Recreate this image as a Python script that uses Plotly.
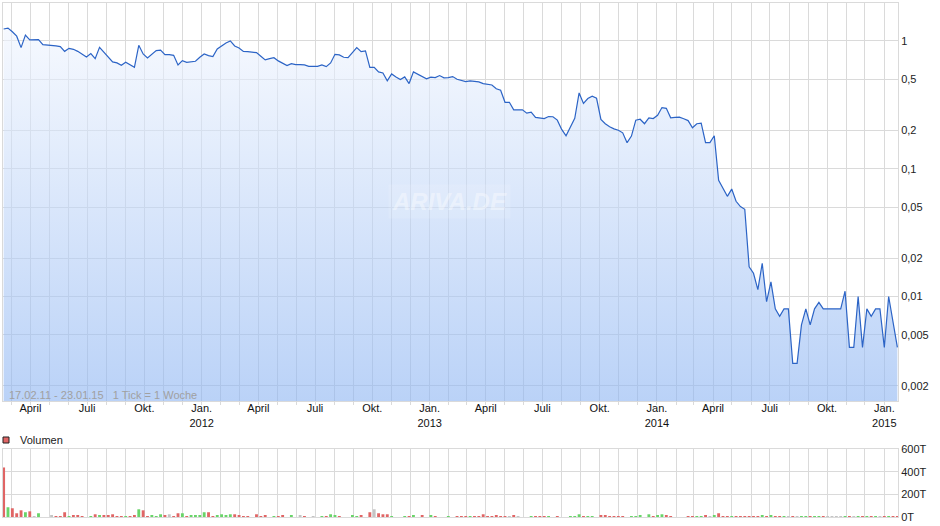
import plotly.graph_objects as go
from datetime import date, timedelta

# ---------------- data ----------------
start_date = date(2011, 2, 17)          # first weekly tick (17.02.11)
prev_close = 1.30                        # close of the week before the first tick

prices = [
    1.24, 1.26, 1.18, 1.09, 0.886, 1.11, 1.02, 1.02, 1.025, 0.936,
    0.931, 0.931, 0.914, 0.903, 0.829, 0.875, 0.86, 0.829, 0.791, 0.75,
    0.796, 0.727, 0.891, 0.821, 0.75, 0.685, 0.673, 0.645, 0.681, 0.653,
    0.622, 0.924, 0.791, 0.737, 0.791, 0.84, 0.847, 0.782, 0.782, 0.772,
    0.649, 0.702, 0.681, 0.689, 0.693, 0.745, 0.791, 0.768, 0.754, 0.866,
    0.919, 0.965, 1.0, 0.914, 0.882, 0.829, 0.825, 0.821, 0.81, 0.758,
    0.711, 0.727, 0.74, 0.698, 0.668, 0.641, 0.665, 0.653, 0.653, 0.649,
    0.633, 0.633, 0.633, 0.649, 0.63, 0.673, 0.786, 0.777, 0.745, 0.74,
    0.815, 0.886, 0.825, 0.835, 0.622, 0.622, 0.573, 0.562, 0.487, 0.552,
    0.523, 0.499, 0.523, 0.464, 0.573, 0.548, 0.526, 0.505, 0.52, 0.517,
    0.536, 0.514, 0.517, 0.526, 0.501, 0.49, 0.481, 0.487, 0.481, 0.478,
    0.464, 0.458, 0.452, 0.422, 0.411, 0.331, 0.331, 0.289, 0.289, 0.289,
    0.272, 0.277, 0.252, 0.249, 0.247, 0.256, 0.255, 0.24, 0.203, 0.181,
    0.214, 0.248, 0.392, 0.324, 0.354, 0.369, 0.356, 0.243, 0.225, 0.213,
    0.205, 0.2, 0.191, 0.16, 0.18, 0.24, 0.244, 0.225, 0.25, 0.247,
    0.262, 0.301, 0.297, 0.25, 0.252, 0.253, 0.246, 0.238, 0.209, 0.225,
    0.227, 0.16, 0.16, 0.181, 0.081, 0.0706, 0.0608, 0.0693, 0.0556, 0.0505,
    0.0481, 0.0171, 0.0152, 0.0113, 0.0182, 0.0091, 0.013, 0.008, 0.007, 0.008,
    0.008, 0.003, 0.003, 0.006, 0.008, 0.006, 0.008, 0.009, 0.008, 0.008,
    0.008, 0.008, 0.008, 0.011, 0.004, 0.004, 0.01, 0.004, 0.008, 0.007,
    0.008, 0.008, 0.004, 0.01, 0.0064, 0.004,
]

# weekly volume in thousands (T = Tausend)
volume_t = [
    437, 86, 77, 33, 59, 42, 50, 6, 33, 0,
    0, 15, 6, 6, 42, 6, 15, 15, 6, 0,
    6, 24, 15, 15, 15, 24, 6, 6, 6, 6,
    15, 68, 59, 6, 15, 6, 24, 15, 24, 6,
    33, 33, 6, 15, 15, 15, 42, 42, 6, 15,
    24, 15, 24, 24, 15, 6, 6, 0, 24, 6,
    15, 0, 6, 6, 15, 0, 15, 0, 15, 6,
    0, 6, 0, 6, 6, 24, 15, 6, 0, 0,
    15, 6, 15, 0, 42, 68, 33, 24, 24, 6,
    0, 0, 6, 6, 15, 0, 15, 0, 15, 6,
    0, 0, 3, 0, 6, 6, 2, 4, 4, 4,
    24, 4, 4, 15, 4, 4, 4, 15, 4, 0,
    0, 4, 4, 4, 4, 4, 0, 4, 0, 0,
    4, 4, 24, 4, 4, 4, 0, 15, 15, 4,
    4, 4, 4, 0, 4, 4, 15, 0, 24, 4,
    15, 24, 15, 4, 0, 0, 0, 4, 4, 4,
    4, 15, 4, 15, 33, 4, 4, 4, 4, 4,
    4, 4, 4, 4, 15, 4, 15, 4, 4, 4,
    4, 4, 4, 4, 4, 4, 4, 4, 4, 4,
    4, 4, 4, 4, 4, 4, 4, 4, 4, 4,
    4, 4, 4, 4, 4, 4,
]

price_tick_vals = [0.002, 0.005, 0.01, 0.02, 0.05, 0.1, 0.2, 0.5, 1]
price_tick_text = ["0,002", "0,005", "0,01", "0,02", "0,05", "0,1", "0,2", "0,5", "1"]
vol_tick_vals = [0, 200, 400, 600]
vol_tick_text = ["0T", "200T", "400T", "600T"]
quarter_vals = ["2011-04-01", "2011-07-01", "2011-10-01", "2012-01-01",
                "2012-04-01", "2012-07-01", "2012-10-01", "2013-01-01",
                "2013-04-01", "2013-07-01", "2013-10-01", "2014-01-01",
                "2014-04-01", "2014-07-01", "2014-10-01", "2015-01-01"]
quarter_text = ["April", "Juli", "Okt.", "Jan.<br>2012",
                "April", "Juli", "Okt.", "Jan.<br>2013",
                "April", "Juli", "Okt.", "Jan.<br>2014",
                "April", "Juli", "Okt.", "Jan.<br>2015"]

# ---------------- derived ----------------
n = len(prices)
dates = [start_date + timedelta(weeks=i) for i in range(n)]
month_vals = []
y, m = 2011, 3
while (y, m) <= (2015, 1):
    month_vals.append(f"{y}-{m:02d}-01")
    m += 1
    if m > 12:
        m, y = 1, y + 1

RED, GREEN, GRAY = "#e06565", "#69d469", "#c4c4c4"
colors = []
prev = prev_close
for p in prices:
    colors.append(GREEN if p > prev else RED if p < prev else GRAY)
    prev = p

ylog_lo, ylog_hi = -2.818, 0.297
y_floor = 10 ** ylog_lo
GRID = "#dadada"
FONT = "Liberation Sans, Arial, sans-serif"

x_range = [str(start_date - timedelta(days=1.6)), str(dates[-1] + timedelta(days=1.6))]

fig = go.Figure()
fig.add_trace(go.Scatter(x=dates, y=[y_floor] * n, mode="lines", line=dict(width=0),
                         hoverinfo="skip", showlegend=False, xaxis="x", yaxis="y"))
fig.add_trace(go.Scatter(
    x=dates, y=prices, mode="lines", line=dict(color="#2c64c6", width=1.2),
    fill="tonexty",
    fillgradient=dict(type="vertical",
                      colorscale=[[0, "rgba(140,180,242,0.6)"], [1, "rgba(240,245,254,0.6)"]]),
    showlegend=False, xaxis="x", yaxis="y"))
fig.add_trace(go.Bar(x=dates, y=volume_t, marker=dict(color=colors, line=dict(width=0)),
                     width=4.6 * 86400000, showlegend=False, xaxis="x2", yaxis="y2"))

price_bottom_px = 401
vol_top_px = 449
plot_bottom_px = 517
H = 514

def py(px):
    return (plot_bottom_px - px) / H

axis_common = dict(showline=True, linecolor=GRID, linewidth=1, mirror=True,
                   gridcolor=GRID, gridwidth=1, zeroline=False, automargin=False)

fig.update_layout(
    template="none",
    width=940, height=526,
    margin=dict(l=3, r=42, t=3, b=9, autoexpand=False),
    paper_bgcolor="white", plot_bgcolor="white",
    showlegend=False,
    font=dict(family=FONT, size=11, color="#222"),
    xaxis=dict(domain=[0, 1], anchor="y", type="date", range=x_range,
               tickmode="array", tickvals=quarter_vals, ticktext=quarter_text,
               showgrid=True, ticks="outside", ticklen=3, tickcolor=GRID,
               ticklabelstandoff=-6,
               tickfont=dict(family=FONT, size=11, color="#111"),
               minor=dict(tickvals=month_vals, showgrid=True, gridcolor=GRID,
                          ticks="outside", ticklen=3, tickcolor=GRID),
               **axis_common),
    yaxis=dict(domain=[py(price_bottom_px), 1], anchor="x", type="log",
               range=[ylog_lo, ylog_hi], side="right",
               tickmode="array", tickvals=price_tick_vals, ticktext=price_tick_text,
               showgrid=True, ticks="", tickfont=dict(family=FONT, size=11, color="#222"),
               **axis_common),
    xaxis2=dict(domain=[0, 1], anchor="y2", type="date", matches="x",
                showticklabels=False, tickmode="array", tickvals=quarter_vals,
                showgrid=True, ticks="",
                minor=dict(tickvals=month_vals, showgrid=True, gridcolor=GRID),
                **axis_common),
    yaxis2=dict(domain=[0, py(vol_top_px)], anchor="x2", range=[0, 600], side="right",
                tickmode="array", tickvals=vol_tick_vals, ticktext=vol_tick_text,
                showgrid=True, ticks="", tickfont=dict(family=FONT, size=11, color="#222"),
                **axis_common),
)

fig.add_annotation(xref="paper", yref="paper", x=0.004, y=py(395), xanchor="left",
                   yanchor="middle", showarrow=False,
                   text="17.02.11 - 23.01.15\u00a0\u00a0\u00a01 Tick = 1 Woche",
                   font=dict(family=FONT, size=11, color="#a0a0a0"))
fig.add_annotation(xref="paper", yref="paper", x=0.4994, y=py(202), xanchor="center",
                   yanchor="middle", showarrow=False, text="<b><i>ARIVA.DE</i></b>",
                   bgcolor="rgba(255,255,255,0.12)", borderpad=3,
                   font=dict(family=FONT, size=24, color="rgba(255,255,255,0.4)"))
fig.add_shape(type="rect", xref="paper", yref="paper",
              x0=0.0, x1=6 / 895, y0=py(443), y1=py(437),
              fillcolor=RED, line=dict(color="#222", width=1))
fig.add_annotation(xref="paper", yref="paper", x=15 / 895, y=py(440), xanchor="left",
                   yanchor="middle", showarrow=False, text="Volumen",
                   font=dict(family=FONT, size=11, color="#222"))

fig.write_html("out.html", config={"displayModeBar": False},
               post_script="document.body.style.margin='0';")
